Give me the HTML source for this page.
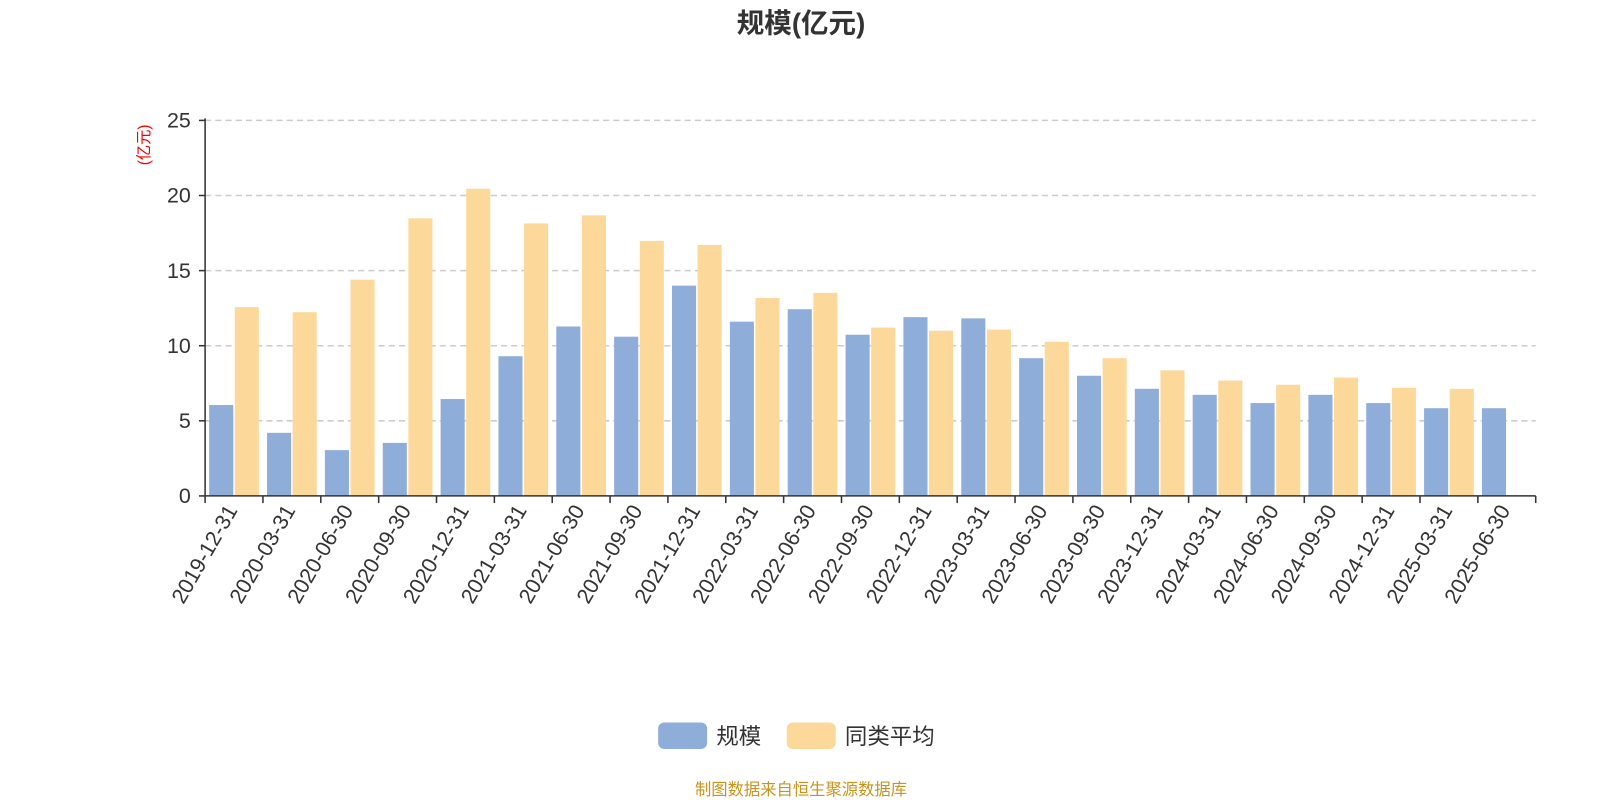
<!DOCTYPE html>
<html><head><meta charset="utf-8">
<style>
html,body{margin:0;padding:0;background:#fff;width:1600px;height:800px;overflow:hidden}
svg text{font-family:"Liberation Sans","Noto Sans CJK SC",sans-serif}
</style></head>
<body>
<svg id="chart" width="1600" height="800" viewBox="0 0 1568 784"></svg>
<script>
const categories=["2019-12-31","2020-03-31","2020-06-30","2020-09-30","2020-12-31","2021-03-31","2021-06-30","2021-09-30","2021-12-31","2022-03-31","2022-06-30","2022-09-30","2022-12-31","2023-03-31","2023-06-30","2023-09-30","2023-12-31","2024-03-31","2024-06-30","2024-09-30","2024-12-31","2025-03-31","2025-06-30"];
const scaleValues=[6.05,4.2,3.05,3.53,6.45,9.3,11.28,10.6,14.0,11.6,12.43,10.73,11.9,11.82,9.17,8.0,7.13,6.73,6.18,6.73,6.18,5.84,5.84];
const peerAvgValues=[12.57,12.23,14.4,18.48,20.45,18.14,18.68,16.98,16.71,13.18,13.52,11.21,11.0,11.07,10.26,9.17,8.36,7.68,7.4,7.88,7.2,7.13,null];
const yTicks=[0,5,10,15,20,25];
const NS="http://www.w3.org/2000/svg";
const svg=document.getElementById("chart");
const X0=201,X1=1505,Y0=486,Y1=118,YMAX=25;
const bw=(X1-X0)/categories.length;
function yScale(v){return Y0-(v/YMAX)*(Y0-Y1);}
function xScale(i){return X0+i*bw;}
function mk(tag,attrs,parent){const e=document.createElementNS(NS,tag);for(const k in attrs)e.setAttribute(k,attrs[k]);(parent||svg).appendChild(e);return e;}
let t=mk("text",{x:785,y:32,"text-anchor":"middle","font-size":"27","font-weight":"bold",fill:"#333"});
t.textContent="规模(亿元)";


let u=mk("text",{x:0,y:0,transform:"translate(146,142) rotate(-90)","text-anchor":"middle","font-size":"15",fill:"#e00"});
u.textContent="(亿元)";


yTicks.forEach(v=>{
  const y=yScale(v);
  if(v>0){const g=mk("line",{x1:X0,x2:X1,y1:y,y2:y,stroke:"#ccc","stroke-dasharray":"6,4","stroke-width":1.5});
  
  }
  const tk=mk("line",{x1:X0-6,x2:X0,y1:y,y2:y,stroke:"#333","stroke-width":1.5});
  
  
  const l=mk("text",{x:X0-14,y:y+7,"text-anchor":"end","font-size":"21",fill:"#333"});
  l.textContent=v;
  
  
});
const pad=4,gap=1.5,bwid=(bw-2*pad-gap)/2;
categories.forEach((c,i)=>{
  const x=xScale(i);
  const v1=scaleValues[i];
  if(v1!=null){const r=mk("rect",{x:x+pad,y:yScale(v1),width:bwid,height:Y0-yScale(v1),fill:"#8eadd9"});
  
  }
  const v2=peerAvgValues[i];
  if(v2!=null){const r=mk("rect",{x:x+pad+bwid+gap,y:yScale(v2),width:bwid,height:Y0-yScale(v2),fill:"#fdd89b"});
  
  }
});
const ya=mk("line",{x1:X0,x2:X0,y1:Y1-2,y2:Y0,stroke:"#333","stroke-width":1.5});


const xa=mk("line",{x1:X0,x2:X1,y1:Y0,y2:Y0,stroke:"#333","stroke-width":1.5});


for(let i=0;i<=categories.length;i++){
  const x=xScale(i);
  const tk=mk("line",{x1:x,x2:x,y1:Y0,y2:Y0+7,stroke:"#333","stroke-width":1.5});
  
  
}
categories.forEach((c,i)=>{
  const x=xScale(i)+bw/2+4;
  const l=mk("text",{x:0,y:0,transform:`translate(${x},${Y0+14}) rotate(-60)`,"text-anchor":"end","font-size":"21",fill:"#333"});
  l.textContent=c;
  
  
});
const lg=mk("g",{});


const r1=mk("rect",{x:645,y:708,width:48,height:26,rx:6,fill:"#8eadd9"},lg);


const t1=mk("text",{x:702,y:729,"font-size":"22",fill:"#333"},lg);t1.textContent="规模";


const r2=mk("rect",{x:771,y:708,width:48,height:26,rx:6,fill:"#fdd89b"},lg);


const t2=mk("text",{x:828,y:729,"font-size":"22",fill:"#333"},lg);t2.textContent="同类平均";


const f=mk("text",{x:785,y:779,"text-anchor":"middle","font-size":"16",fill:"#c8941e"});
f.textContent="制图数据来自恒生聚源数据库";


</script>
</body></html>
